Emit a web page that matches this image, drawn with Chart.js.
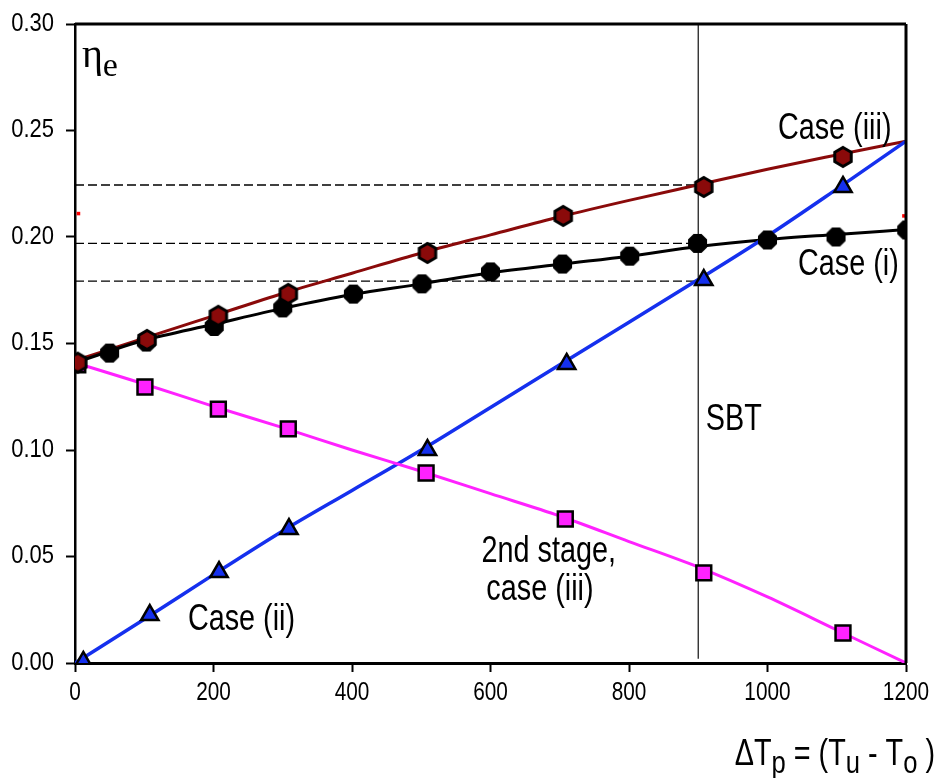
<!DOCTYPE html>
<html>
<head>
<meta charset="utf-8">
<script src="https://cdn.jsdelivr.net/npm/chart.js@4.4.1/dist/chart.umd.min.js"></script>
<style>
html,body{margin:0;padding:0;background:#fff;}
#wrap{width:940px;height:778px;position:relative;}
</style>
</head>
<body>
<div id="wrap"><canvas id="c" width="940" height="778"></canvas></div>
<script>
// ---- data ----
const xTicks = [0, 200, 400, 600, 800, 1000, 1200];
const yTicks = [0, 0.05, 0.10, 0.15, 0.20, 0.25, 0.30];

const lineX = [0, 100, 200, 300, 400, 500, 600, 700, 800, 900, 1000, 1100, 1200];
const case1Line  = [0.141, 0.1515, 0.159, 0.1665, 0.173, 0.178, 0.1832, 0.1872, 0.191, 0.1955, 0.1988, 0.2012, 0.2035];
const case3Line  = [0.142, 0.1525, 0.163, 0.1735, 0.183, 0.1925, 0.201, 0.2095, 0.2172, 0.2245, 0.2318, 0.2385, 0.245];
const case2Line  = [0.000, 0.0205, 0.0415, 0.062, 0.081, 0.100, 0.120, 0.140, 0.160, 0.180, 0.2005, 0.2225, 0.245];
const stage2Line = [0.141, 0.131, 0.1205, 0.1105, 0.100, 0.090, 0.0795, 0.069, 0.057, 0.045, 0.031, 0.0155, 0.000];

const case1X = [0, 50, 103, 201, 300, 402, 501, 600, 704, 801, 899, 1000, 1099, 1201];
const case1Y = [0.141, 0.1455, 0.1507, 0.158, 0.1667, 0.1732, 0.178, 0.1836, 0.1873, 0.191, 0.197, 0.1986, 0.200, 0.2033];

const case3X = [4, 104, 207, 308, 509, 705, 908, 1109];
const case3Y = [0.141, 0.1517, 0.163, 0.1733, 0.1925, 0.2099, 0.2235, 0.2376];

const case2X = [12, 108, 208, 309, 509, 710, 908, 1109];
const case2Y = [0.0005, 0.0225, 0.0427, 0.0629, 0.100, 0.1404, 0.1798, 0.2235];

const stage2X = [4, 101, 207, 308, 507, 708, 908, 1109];
const stage2Y = [0.140, 0.1296, 0.1192, 0.1099, 0.0892, 0.0676, 0.0423, 0.0141];

const refLevels = [0.2244, 0.197, 0.1793];   // dashed horizontal guides
const refX = [0, 900];
const sbtX = 900;                             // vertical SBT line
const redMarkX = [5, 1197];
const redMarkY = [0.211, 0.2099];

// ---- helpers ----
function pts(xs, ys){ return xs.map((x,i)=>({x:x, y:ys[i]})); }

function polyCanvas(n, r, fill, stroke, lw, rot){
  const s = Math.ceil(2*r + lw + 2);
  const cv = document.createElement('canvas');
  cv.width = s; cv.height = s;
  const g = cv.getContext('2d');
  g.beginPath();
  for(let i=0;i<n;i++){
    const a = rot + i*2*Math.PI/n;
    const px = s/2 + r*Math.cos(a), py = s/2 + r*Math.sin(a);
    if(i===0) g.moveTo(px,py); else g.lineTo(px,py);
  }
  g.closePath();
  g.fillStyle = fill; g.fill();
  g.lineWidth = lw; g.strokeStyle = stroke; g.stroke();
  return cv;
}
const hexImg = polyCanvas(6, 9.5, '#8a0a0a', '#000', 3, -Math.PI/2);
const octImg = polyCanvas(8, 9.5, '#000', '#000', 1.5, Math.PI/8);

const SANS = '"Liberation Sans", Arial, sans-serif';

// draw horizontally condensed text (emulates a narrow face)
function narrowText(ctx, text, x, y, size, align, sx, baseline){
  ctx.save();
  ctx.font = size + 'px ' + SANS;
  ctx.textBaseline = baseline || 'alphabetic';
  const w = ctx.measureText(text).width * sx;
  let x0 = x;
  if(align === 'center') x0 = x - w/2;
  else if(align === 'right') x0 = x - w;
  ctx.translate(x0, y);
  ctx.scale(sx, 1);
  ctx.textAlign = 'left';
  ctx.fillText(text, 0, 0);
  ctx.restore();
  return w;
}

const labels = [
  {text:'Case (iii)', x:1015, y:0.246},
  {text:'Case (i)', x:1044, y:0.1822},
  {text:'SBT', x:911, y:0.1094},
  {text:'2nd stage,', x:587, y:0.0474},
  {text:'case (iii)', x:594, y:0.0296},
  {text:'Case (ii)', x:163, y:0.0155}
];

const textPlugin = {
  id:'texts',
  afterDraw(chart){
    const ctx = chart.ctx, xs = chart.scales.x, ys = chart.scales.y, ca = chart.chartArea;
    ctx.save();
    // frame: top and right borders
    ctx.strokeStyle = '#000'; ctx.lineWidth = 3;
    ctx.beginPath();
    ctx.moveTo(ca.left, ca.top); ctx.lineTo(ca.right, ca.top);
    ctx.moveTo(ca.right, ca.top); ctx.lineTo(ca.right, ca.bottom);
    ctx.stroke();
    ctx.fillStyle = '#000';
    // y tick labels
    yTicks.forEach(v => {
      narrowText(ctx, v.toFixed(2), ca.left - 21, ys.getPixelForValue(v), 25, 'right', 0.88, 'middle');
    });
    // x tick labels
    xTicks.forEach(v => {
      narrowText(ctx, String(v), xs.getPixelForValue(v), ca.bottom + 37, 26, 'center', 0.8, 'alphabetic');
    });
    // annotation labels
    labels.forEach(l => {
      narrowText(ctx, l.text, xs.getPixelForValue(l.x), ys.getPixelForValue(l.y), 36, 'left', 0.8);
    });
    // eta_e
    const ex = xs.getPixelForValue(10), ey = ys.getPixelForValue(0.2798);
    ctx.textBaseline = 'alphabetic'; ctx.textAlign = 'left';
    ctx.font = '40px "Liberation Serif", "DejaVu Serif", serif';
    ctx.fillText('\u03B7', ex, ey);
    const w = ctx.measureText('\u03B7').width;
    ctx.font = '34px "Liberation Serif", "DejaVu Serif", serif';
    ctx.fillText('e', ex + w, ey + 9);
    // axis title with subscripts
    const parts = [
      ['\u0394T', 0], ['p', 1], [' = (T', 0], ['u', 1], [' - T', 0], ['o', 1], [' )', 0]
    ];
    const SX = 0.8;
    let total = 0;
    parts.forEach(p => { ctx.font = (p[1] ? 32 : 36) + 'px ' + SANS; total += ctx.measureText(p[0]).width * SX; });
    let cx = chart.width - 5 - total;
    const by = chart.height - 13;
    parts.forEach(p => {
      cx += narrowText(ctx, p[0], cx, by + (p[1] ? 8 : 0), p[1] ? 32 : 36, 'left', SX);
    });
    ctx.restore();
  }
};

const lineDs = (data, color, w) => ({
  type:'scatter', data: pts(lineX, data), showLine:true, borderColor:color, borderWidth:w,
  pointRadius:0, tension:0.35, cubicInterpolationMode:'monotone', order:5
});

const datasets = [
  ...refLevels.map(v => ({
    type:'scatter', data: pts(refX, [v, v]), showLine:true, borderColor:'#000', borderWidth:1.4,
    borderDash:[9,4], pointRadius:0, order:9
  })),
  {type:'scatter', data: pts([sbtX, sbtX], [0.002, 0.30]), showLine:true, borderColor:'#222', borderWidth:1.3, pointRadius:0, order:9},
  lineDs(stage2Line, '#ff22ff', 3),
  lineDs(case2Line, '#1530ee', 3.5),
  lineDs(case1Line, '#000000', 3),
  lineDs(case3Line, '#8a0a0a', 3),
  {type:'scatter', data: pts(redMarkX, redMarkY), pointStyle:'rect', pointRadius:2.5, backgroundColor:'#ff0000', borderWidth:0, order:4},
  {type:'scatter', data: pts(stage2X, stage2Y), pointStyle:'rect', pointRadius:10.5, backgroundColor:'#ff22ff', borderColor:'#000', borderWidth:2.5, order:3},
  {type:'scatter', data: pts(case1X, case1Y), pointStyle:octImg, order:2},
  {type:'scatter', data: pts(case2X, case2Y), pointStyle:'triangle', pointRadius:10, backgroundColor:'#1530ee', borderColor:'#000', borderWidth:2.5, order:1},
  {type:'scatter', data: pts(case3X, case3Y), pointStyle:hexImg, order:0}
];

new Chart(document.getElementById('c'), {
  type:'scatter',
  data:{ datasets },
  options:{
    responsive:false,
    animation:false,
    devicePixelRatio:1,
    layout:{ padding:{ left:0, top:24, right:34, bottom:0 } },
    plugins:{ legend:{display:false}, tooltip:{enabled:false} },
    scales:{
      x:{
        type:'linear', min:0, max:1200,
        afterBuildTicks(s){ s.ticks = xTicks.map(v=>({value:v})); },
        ticks:{ display:false },
        grid:{ drawOnChartArea:false, drawTicks:true, tickLength:9, tickWidth:2, tickColor:'#000' },
        border:{ color:'#000', width:3 },
        afterFit(s){ s.height = 115; }
      },
      y:{
        type:'linear', min:0, max:0.30,
        afterBuildTicks(s){ s.ticks = yTicks.map(v=>({value:v})); },
        ticks:{ display:false },
        grid:{ drawOnChartArea:false, drawTicks:true, tickLength:9, tickWidth:2, tickColor:'#000' },
        border:{ color:'#000', width:2.5 },
        afterFit(s){ s.width = 75; }
      }
    }
  },
  plugins:[textPlugin]
});
</script>
</body>
</html>
